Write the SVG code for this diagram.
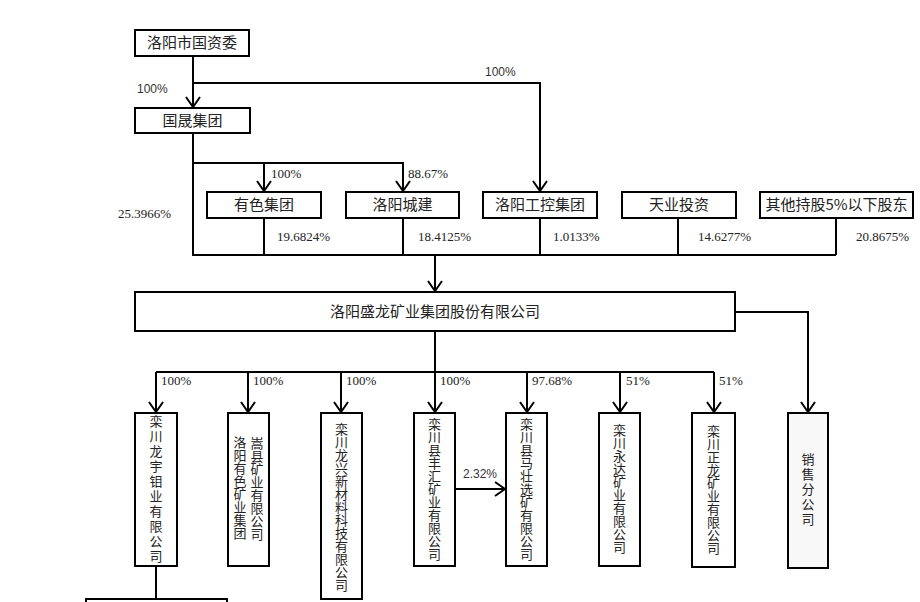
<svg xmlns="http://www.w3.org/2000/svg" width="920" height="602" viewBox="0 0 920 602">
<defs>
<style>
.box{fill:#fff;stroke:#000;stroke-width:2}
.gbox{fill:#f8f8f8;stroke:#000;stroke-width:2}
.ln{fill:none;stroke:#000;stroke-width:2}
.t{font-family:"Noto Sans CJK SC","Noto Sans",sans-serif;font-size:15px;fill:#222;text-anchor:middle}
.v{font-family:"Noto Sans CJK SC",sans-serif;font-size:13px;fill:#222;writing-mode:vertical-rl;text-anchor:middle}
.ps{font-family:"Liberation Serif",serif;font-size:13px;fill:#222}
.pa{font-family:"Liberation Sans",sans-serif;font-size:12px;fill:#333}
</style>
<marker id="arr" viewBox="0 0 12 16" refX="11" refY="8" markerWidth="12" markerHeight="16" orient="auto" markerUnits="userSpaceOnUse">
<path d="M1,1 L11,8 L1,15" fill="none" stroke="#000" stroke-width="2"/>
</marker>
</defs>
<rect width="920" height="602" fill="#fff"/>

<g id="connectors">
<path class="ln" d="M193,56 V107" marker-end="url(#arr)"/>
<path class="ln" d="M193,83 H540 V191" marker-end="url(#arr)"/>
<path class="ln" d="M193,133 V255 H836"/>
<path class="ln" d="M193,163 H403 V191" marker-end="url(#arr)"/>
<path class="ln" d="M264,163 V191" marker-end="url(#arr)"/>
<path class="ln" d="M264,218 V255 M403,218 V255 M540,218 V255 M678,218 V255 M836,218 V255"/>
<path class="ln" d="M435,255 V291" marker-end="url(#arr)"/>
<path class="ln" d="M735,312 H808 V412" marker-end="url(#arr)"/>
<path class="ln" d="M435,331 V372 M156,372 H714"/>
<path class="ln" d="M156,372 V412" marker-end="url(#arr)"/>
<path class="ln" d="M248,372 V412" marker-end="url(#arr)"/>
<path class="ln" d="M341,372 V412" marker-end="url(#arr)"/>
<path class="ln" d="M435,372 V412" marker-end="url(#arr)"/>
<path class="ln" d="M527,372 V412" marker-end="url(#arr)"/>
<path class="ln" d="M620,372 V412" marker-end="url(#arr)"/>
<path class="ln" d="M714,372 V412" marker-end="url(#arr)"/>
<path class="ln" d="M455,489 H505" marker-end="url(#arr)"/>
<path class="ln" d="M156,566 V602"/>
</g>

<g id="labels">
<text class="pa" x="137" y="93">100%</text>
<text class="pa" x="485" y="76">100%</text>
<text class="ps" x="271" y="178">100%</text>
<text class="ps" x="408" y="178">88.67%</text>
<text class="ps" x="118" y="218">25.3966%</text>
<text class="ps" x="277" y="241">19.6824%</text>
<text class="ps" x="418" y="241">18.4125%</text>
<text class="ps" x="553" y="241">1.0133%</text>
<text class="ps" x="698" y="241">14.6277%</text>
<text class="ps" x="856" y="241">20.8675%</text>
<text class="ps" x="161" y="385">100%</text>
<text class="ps" x="253" y="385">100%</text>
<text class="ps" x="346" y="385">100%</text>
<text class="ps" x="440" y="385">100%</text>
<text class="ps" x="532" y="385">97.68%</text>
<text class="ps" x="626" y="385">51%</text>
<text class="ps" x="719" y="385">51%</text>
<text class="pa" x="463" y="478">2.32%</text>
</g>

<g id="n-gzw"><rect class="box" x="135" y="30" width="114" height="26"/><text class="t" x="192" y="48">洛阳市国资委</text></g>
<g id="n-gs"><rect class="box" x="135" y="108" width="115" height="25"/><text class="t" x="192.5" y="126">国晟集团</text></g>
<g id="n-ys"><rect class="box" x="207" y="192" width="114" height="26"/><text class="t" x="264" y="210">有色集团</text></g>
<g id="n-cj"><rect class="box" x="346" y="192" width="113" height="26"/><text class="t" x="402.5" y="210">洛阳城建</text></g>
<g id="n-gk"><rect class="box" x="483" y="192" width="114" height="26"/><text class="t" x="540" y="210">洛阳工控集团</text></g>
<g id="n-ty"><rect class="box" x="622" y="192" width="114" height="26"/><text class="t" x="679" y="210">天业投资</text></g>
<g id="n-qt"><rect class="box" x="760" y="192" width="153" height="26"/><text class="t" x="836.5" y="210">其他持股5%以下股东</text></g>
<g id="n-sl"><rect class="box" x="135" y="292" width="600" height="39"/><text class="t" x="435" y="317">洛阳盛龙矿业集团股份有限公司</text></g>

<g id="n-s1"><rect class="box" x="135" y="413" width="42" height="153"/><text class="v" x="156" y="489.5" style="letter-spacing:2px">栾川龙宇钼业有限公司</text></g>
<g id="n-s2"><rect class="box" x="228" y="413" width="41" height="153"/><text class="v" x="257" y="489">嵩县矿业有限公司</text><text class="v" x="240" y="488">洛阳有色矿业集团</text></g>
<g id="n-s3"><rect class="box" x="321" y="413" width="41" height="186"/><text class="v" x="341.5" y="507">栾川龙兴新材料科技有限公司</text></g>
<g id="n-s4"><rect class="box" x="414" y="413" width="41" height="153"/><text class="v" x="434.5" y="489.5">栾川县丰汇矿业有限公司</text></g>
<g id="n-s5"><rect class="box" x="506" y="413" width="41" height="153"/><text class="v" x="526.5" y="489.5">栾川县马壮选矿有限公司</text></g>
<g id="n-s6"><rect class="box" x="599" y="413" width="41" height="153"/><text class="v" x="619.5" y="489">栾川永达矿业有限公司</text></g>
<g id="n-s7"><rect class="box" x="692" y="413" width="43" height="154"/><text class="v" x="713.5" y="490">栾川正龙矿业有限公司</text></g>
<g id="n-s8"><rect class="gbox" x="788" y="413" width="40" height="155"/><text class="v" x="808" y="490" style="letter-spacing:2px">销售分公司</text></g>
<g id="n-bottom"><rect class="box" x="86" y="599" width="141" height="30"/></g>
</svg>
